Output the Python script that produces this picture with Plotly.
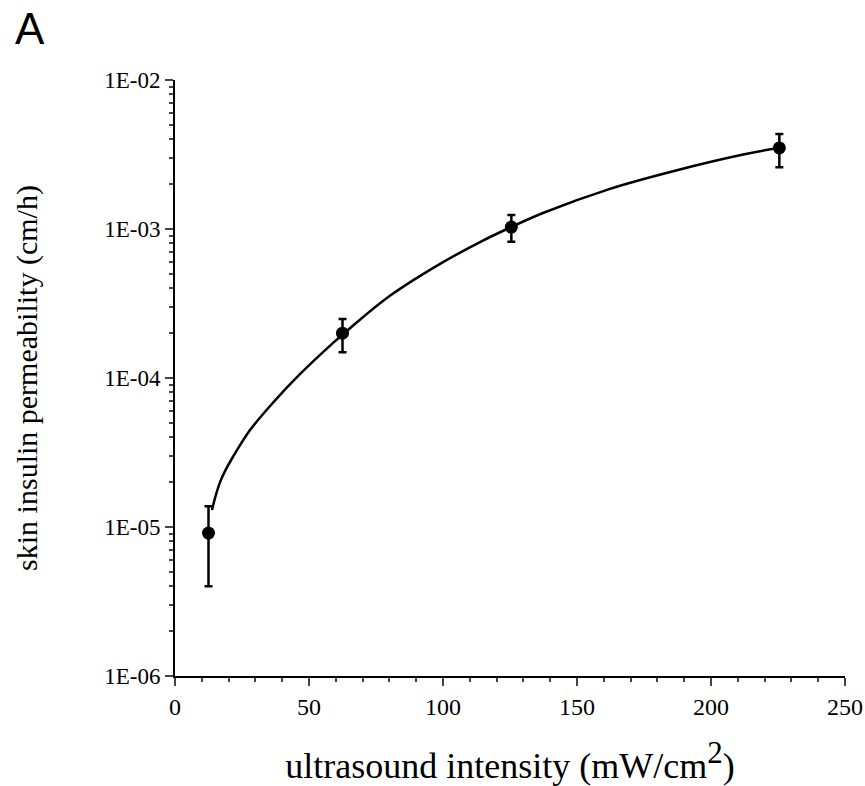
import plotly.graph_objects as go

# measured data points
intensity = [12.5, 62.5, 125.5, 225.5]
permeability = [9.1e-06, 2.0e-04, 1.03e-03, 3.5e-03]
err_plus = [4.7e-06, 0.49e-04, 0.21e-03, 0.84e-03]
err_minus = [5.1e-06, 0.51e-04, 0.21e-03, 0.90e-03]

# fitted curve
curve_x = [13.8, 15.0, 16.8, 18.8, 21.6, 28.0, 36.6, 46.6, 59.0, 65.3, 80.2, 98.9, 113.8,
           123.9, 137.3, 162.3, 187.3, 212.0, 224.6]
curve_y = [1.30e-05, 1.58e-05, 2.0e-05, 2.4e-05, 2.95e-05, 4.47e-05, 6.84e-05, 1.06e-04,
           1.72e-04, 2.16e-04, 3.56e-04, 5.83e-04, 8.17e-04, 1.0e-03, 1.28e-03, 1.86e-03,
           2.48e-03, 3.16e-03, 3.49e-03]

y_tickvals = [1e-06, 1e-05, 1e-04, 1e-03, 1e-02]
y_ticktext = ["1E-06", "1E-05", "1E-04", "1E-03", "1E-02"]
y_minor = [m * 10.0 ** e for e in range(-6, -2) for m in range(2, 10)]
x_tickvals = [0, 50, 100, 150, 200, 250]

serif = "Liberation Serif, Times New Roman, serif"

W, H = 865, 786
ML, MT, MR, MB = 175, 80, 20, 110
PW, PH = W - ML - MR, H - MT - MB

fig = go.Figure()
fig.add_trace(go.Scatter(
    x=curve_x, y=curve_y, mode="lines",
    line=dict(color="black", width=2.5, shape="spline", smoothing=1.0),
    showlegend=False, hoverinfo="skip"))
fig.add_trace(go.Scatter(
    x=intensity, y=permeability, mode="markers",
    marker=dict(color="black", size=13),
    error_y=dict(type="data", array=err_plus, arrayminus=err_minus, color="black",
                 thickness=2.5, width=4),
    showlegend=False))

fig.update_layout(
    width=W, height=H,
    margin=dict(l=ML, r=MR, t=MT, b=MB, autoexpand=False),
    paper_bgcolor="white", plot_bgcolor="white",
    font=dict(family=serif, color="black", size=23),
    xaxis=dict(range=[0, 250], tickvals=x_tickvals, ticks="outside", ticklen=8, tickwidth=2,
               showline=True, linecolor="black", linewidth=2, showgrid=False, zeroline=False,
               automargin=False, ticklabeloverflow="allow",
               tickfont=dict(size=24, family=serif),
               minor=dict(ticks="outside", ticklen=4, tickwidth=2, dtick=10, showgrid=False),
               title=dict(text="ultrasound intensity (mW/cm<sup><span style='font-size:31px'>2</span></sup>)",
                          font=dict(size=36, family=serif), standoff=48)),
    yaxis=dict(type="log", range=[-6, -2], tickvals=y_tickvals, ticktext=y_ticktext,
               ticks="outside", ticklen=8, tickwidth=2,
               showline=True, linecolor="black", linewidth=2, showgrid=False, zeroline=False,
               automargin=False,
               tickfont=dict(size=23, family=serif),
               minor=dict(ticks="outside", ticklen=4, tickwidth=1.5, tickvals=y_minor, showgrid=False),
               title=dict(text="skin insulin permeability (cm/h)", font=dict(size=30, family=serif),
                          standoff=58)),
    annotations=[dict(text="A", x=-(ML - 30) / PW, y=1 + (MT - 28) / PH, xref="paper", yref="paper",
                      xanchor="center", yanchor="middle", showarrow=False, borderpad=0,
                      font=dict(family="Liberation Sans, Arial, sans-serif", size=44, color="black"))],
)

fig.write_html("out.html", config={"displayModeBar": False},
               post_script="document.body.style.margin='0';")
